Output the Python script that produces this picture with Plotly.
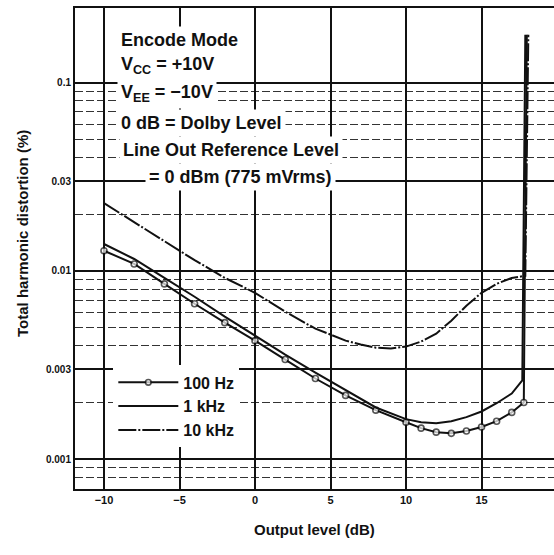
import plotly.graph_objects as go

# ---- data ----
x_100 = [-10, -8, -6, -4, -2, 0, 2, 4, 6, 8, 10, 11, 12, 13, 14, 15, 16, 17, 17.8, 18.0]
y_100 = [0.0128, 0.01089, 0.00853, 0.00669, 0.00531, 0.00426, 0.00338, 0.00268, 0.00218,
         0.00182, 0.00157, 0.00146, 0.00139, 0.00137, 0.00141, 0.00148, 0.00159, 0.00177,
         0.00200, 0.18]

x_1k = [-10, -8, -6, -4, -2, 0, 2, 4, 6, 8, 10, 11, 12, 13, 14, 15, 16, 17, 17.7, 17.9]
y_1k = [0.0139, 0.01157, 0.00918, 0.00729, 0.00571, 0.00453, 0.00359, 0.00288, 0.00232,
        0.00188, 0.00163, 0.00157, 0.00155, 0.00159, 0.00167, 0.00179, 0.00198, 0.00223,
        0.00262, 0.18]

x_10k = [-10, -8, -6, -4, -2, 0, 2, 4, 5, 6, 7, 8, 9, 10, 11, 12, 13, 14, 15, 16, 17, 17.9, 18.1]
y_10k = [0.0229, 0.0182, 0.0144, 0.0114, 0.00918, 0.00765, 0.00607, 0.00493, 0.00459, 0.00426,
         0.00406, 0.00391, 0.00387, 0.00396, 0.00421, 0.00464, 0.00544, 0.00653, 0.00765,
         0.00853, 0.00918, 0.00941, 0.18]

x_ticks = [-10, -5, 0, 5, 10, 15]
x_tick_labels = ["\u221210", "\u22125", "0", "5", "10", "15"]
y_ticks = [0.001, 0.003, 0.01, 0.03, 0.1]
y_tick_labels = ["0.001", "0.003", "0.01", "0.03", "0.1"]
y_minor = [0.0008, 0.0009, 0.002, 0.004, 0.005, 0.006, 0.007, 0.008, 0.009,
           0.02, 0.04, 0.05, 0.06, 0.07, 0.08, 0.09]

notes = ["Encode Mode",
         "V<sub>CC</sub> = +10V",
         "V<sub>EE</sub> = \u221210V",
         "0 dB = Dolby Level",
         "Line Out Reference Level",
         "= 0 dBm (775 mVrms)"]

FONT = "Liberation Sans, Arial, sans-serif"
INK = "#111111"

fig = go.Figure()
fig.add_trace(go.Scatter(
    x=x_100, y=y_100, mode="lines+markers", name="100 Hz",
    line=dict(color=INK, width=2),
    marker=dict(symbol="circle", size=[6] * (len(x_100) - 1) + [0], color="white",
                line=dict(color=INK, width=1.6)),
))
fig.add_trace(go.Scatter(
    x=x_1k, y=y_1k, mode="lines", name="1 kHz",
    line=dict(color=INK, width=2),
))
fig.add_trace(go.Scatter(
    x=x_10k, y=y_10k, mode="lines", name="10 kHz",
    line=dict(color=INK, width=2, dash="18px,2px,2px,2px"),
))

# text block
note_y = [0.933, 0.881, 0.823, 0.761, 0.705, 0.649]
note_x = [0.088, 0.088, 0.088, 0.088, 0.092, 0.147]
for t, xx, yy in zip(notes, note_x, note_y):
    fig.add_annotation(text=t, x=xx, y=yy, xref="paper", yref="paper",
                       xanchor="left", yanchor="middle", showarrow=False,
                       font=dict(family=FONT, size=18, color=INK, weight="bold"),
                       bgcolor="white", borderpad=3)

# axis titles
fig.add_annotation(text="Total harmonic distortion (%)", x=-0.111, y=0.532,
                   xref="paper", yref="paper", textangle=-90, showarrow=False,
                   xanchor="center", yanchor="middle",
                   font=dict(family=FONT, size=15, color=INK, weight="bold"))
fig.add_annotation(text="Output level (dB)", x=0.5, y=-0.085,
                   xref="paper", yref="paper", showarrow=False,
                   xanchor="center", yanchor="middle",
                   font=dict(family=FONT, size=15, color=INK, weight="bold"))

fig.update_layout(
    width=554, height=555,
    margin=dict(l=75, r=0, t=8, b=66),
    paper_bgcolor="white", plot_bgcolor="white",
    font=dict(family=FONT, color=INK),
    showlegend=True,
    legend=dict(x=0.08, y=0.257, xanchor="left", yanchor="top",
                bgcolor="white", borderwidth=0, itemwidth=60,
                font=dict(family=FONT, size=16, color=INK, weight="bold"),
                tracegroupgap=0),
    xaxis=dict(range=[-11.92, 19.8], tickmode="array", tickvals=x_ticks,
               ticktext=x_tick_labels, showgrid=True, gridcolor=INK, gridwidth=1.8,
               zeroline=False, showline=True, linecolor=INK, linewidth=2, mirror=True,
               ticks="", tickfont=dict(family=FONT, size=11, color=INK, weight="bold")),
    yaxis=dict(type="log", range=[-3.159, -0.603], tickmode="array", tickvals=y_ticks,
               ticktext=y_tick_labels, showgrid=True, gridcolor=INK, gridwidth=1.6,
               zeroline=False, showline=True, linecolor=INK, linewidth=2, mirror=False,
               ticks="", tickfont=dict(family=FONT, size=10, color=INK, weight="bold"),
               minor=dict(tickvals=y_minor, showgrid=True, gridcolor="#333333",
                          gridwidth=1.2, griddash="8px,3px")),
)

fig.write_html("out.html", config={"displayModeBar": False},
               post_script="document.body.style.margin='0';")
